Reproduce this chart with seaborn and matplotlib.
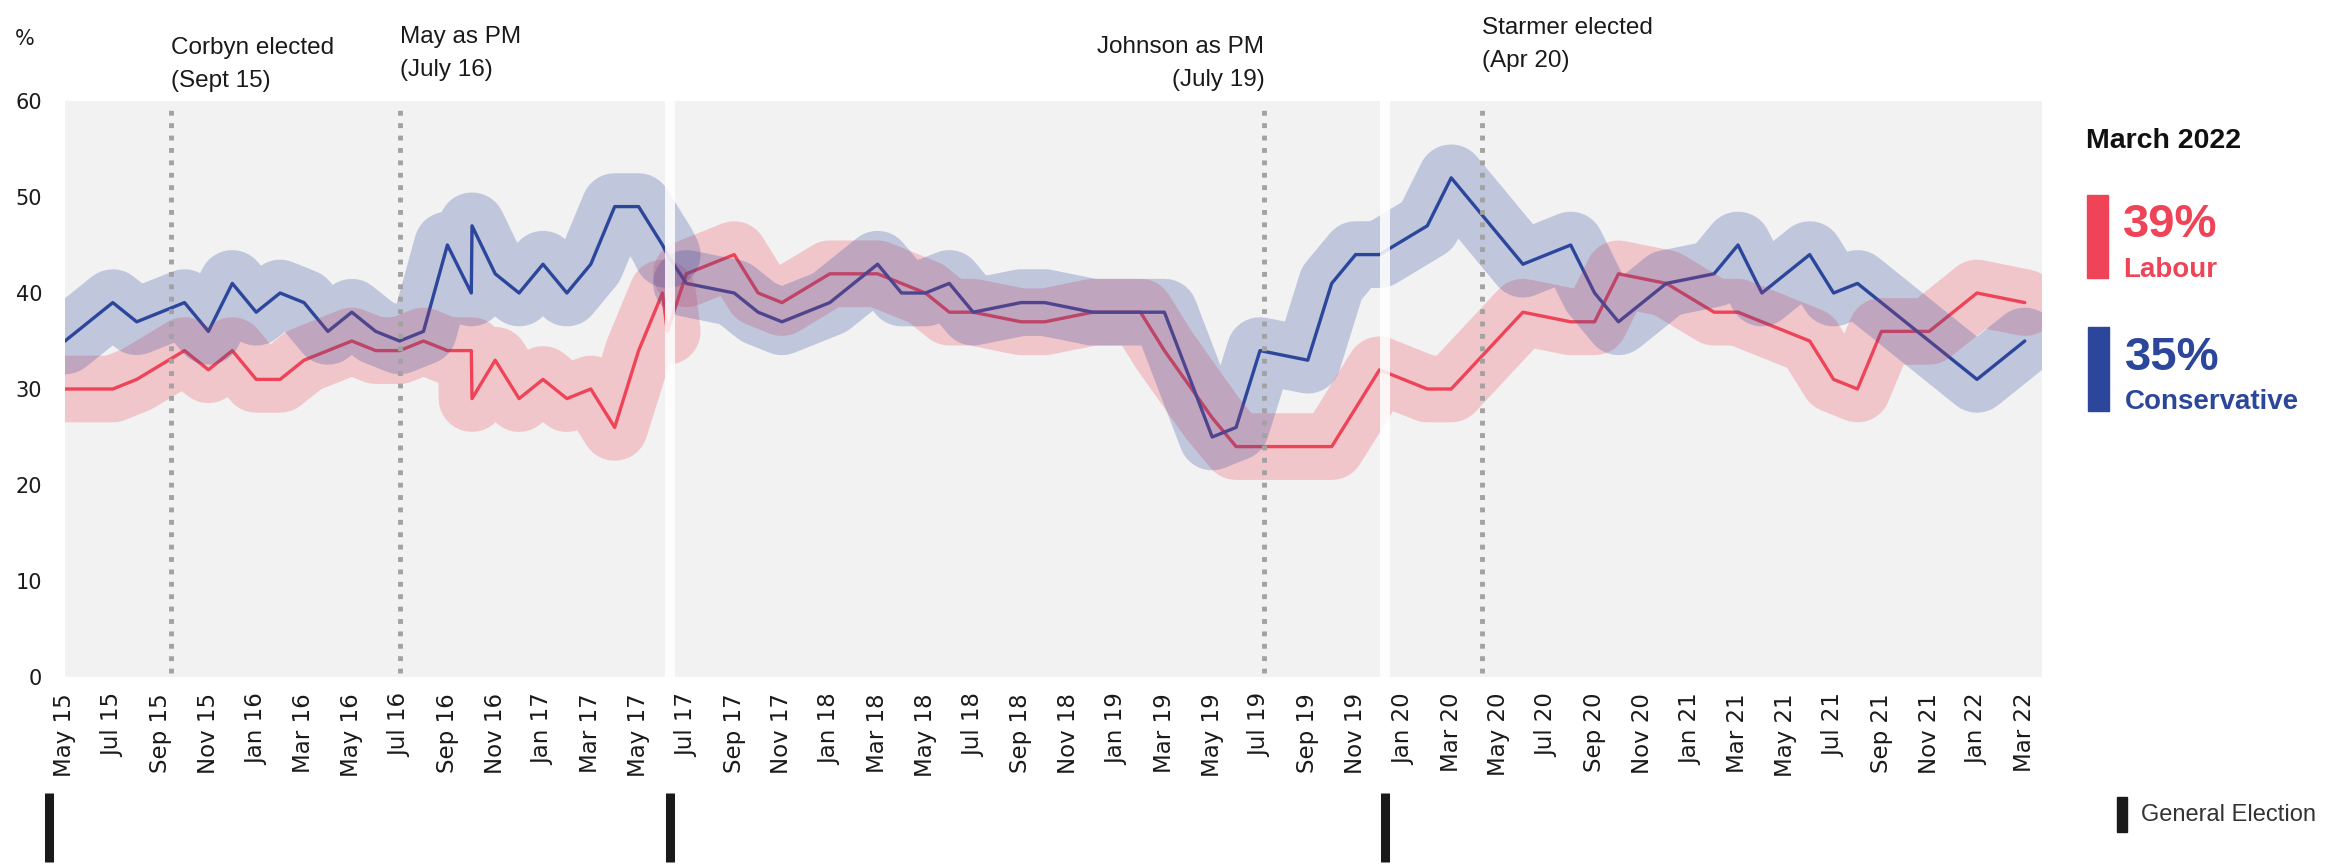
import pandas as pd
import seaborn as sns
import matplotlib.pyplot as plt
from matplotlib.patches import Rectangle
from matplotlib.transforms import blended_transform_factory

# months counted from May 2015 (two polls in Sep/Oct 16 share a month)
months = [0, 2, 3, 5, 6, 7, 8, 9, 10, 11, 12, 13, 14, 15, 16, 17, 17.03, 18, 19, 20,
          21, 22, 23, 24, 25, 25.2,
          26, 28, 29, 30, 32, 34, 35, 36, 37, 38, 40, 41, 43, 44, 45, 46, 48, 49, 50,
          52, 53, 54, 55,
          57, 58, 61, 63, 64, 65, 67, 69, 70, 71, 73, 74, 75, 76, 78, 80, 82]
con = [35, 39, 37, 39, 36, 41, 38, 40, 39, 36, 38, 36, 35, 36, 45, 40, 47, 42, 40, 43,
       40, 43, 49, 49, 45, 44,
       41, 40, 38, 37, 39, 43, 40, 40, 41, 38, 39, 39, 38, 38, 38, 38, 25, 26, 34,
       33, 41, 44, 44,
       47, 52, 43, 45, 40, 37, 41, 42, 45, 40, 44, 40, 41, 39, 35, 31, 35]
lab = [30, 30, 31, 34, 32, 34, 31, 31, 33, 34, 35, 34, 34, 35, 34, 34, 29, 33, 29, 31,
       29, 30, 26, 34, 40, 36,
       42, 44, 40, 39, 42, 42, 41, 40, 38, 38, 37, 37, 38, 38, 38, 34, 27, 24, 24,
       24, 24, 28, 32,
       30, 30, 38, 37, 37, 42, 41, 38, 38, 37, 35, 31, 30, 36, 36, 40, 39]

# the wide bands break at the 2017 election
band_spans = [(0, 25.2), (26, 82)]
ge_months = [-0.65, 25.3, 55.23]

event_labels = ["Corbyn elected\n(Sept 15)", "May as PM\n(July 16)",
                "Johnson as PM\n(July 19)", "Starmer elected\n(Apr 20)"]
event_months = [4.43, 14.02, 50.18, 59.3]

tick_labels = ["May 15", "Jul 15", "Sep 15", "Nov 15", "Jan 16", "Mar 16", "May 16",
               "Jul 16", "Sep 16", "Nov 16", "Jan 17", "Mar 17", "May 17", "Jul 17",
               "Sep 17", "Nov 17", "Jan 18", "Mar 18", "May 18", "Jul 18", "Sep 18",
               "Nov 18", "Jan 19", "Mar 19", "May 19", "Jul 19", "Sep 19", "Nov 19",
               "Jan 20", "Mar 20", "May 20", "Jul 20", "Sep 20", "Nov 20", "Jan 21",
               "Mar 21", "May 21", "Jul 21", "Sep 21", "Nov 21", "Jan 22", "Mar 22"]

RED = "#ef4458"
BLUE = "#2c469b"
W, H = 2336, 866

sns.set_style("white")
plt.rcParams["font.family"] = ["Liberation Sans", "DejaVu Sans"]

df = pd.DataFrame({"month": months, "Conservative": con, "Labour": lab})

fig = plt.figure(figsize=(W / 100, H / 100), dpi=100)
ax = fig.add_axes([65 / W, 1 - 677 / H, (2042 - 65) / W, 576 / H])
ax.set_facecolor("#f2f2f2")

# thin lines first, translucent bands on top
for party, col in [("Labour", RED), ("Conservative", BLUE)]:
    sns.lineplot(data=df, x="month", y=party, color=col, lw=2.4,
                 estimator=None, sort=False, ax=ax, zorder=2)

for party, col in [("Labour", RED), ("Conservative", BLUE)]:
    for lo, hi in band_spans:
        seg = df[(df["month"] >= lo) & (df["month"] <= hi)]
        sns.lineplot(data=seg, x="month", y=party, color=col, lw=48, alpha=0.25,
                     estimator=None, sort=False, ax=ax, zorder=3,
                     solid_capstyle="round", solid_joinstyle="round")

for g in ge_months:
    if g > 0:
        ax.axvline(g, color="white", lw=7.2, alpha=0.85, zorder=4)

for m in event_months:
    ax.axvline(m, ymin=0.007, ymax=0.991, color="#a2a2a2", lw=3.5,
               linestyle=(0, (1.0, 1.55)), zorder=5)

# y of the second line's baseline, in axes units
text_y = [1.0238, 1.0434, 1.0260, 1.0595]
text_ha = ["left", "left", "right", "left"]
xt = ax.get_xaxis_transform()
for lbl, m, ty, ha in zip(event_labels, event_months, text_y, text_ha):
    ax.text(m, ty, lbl, transform=xt, ha=ha, va="baseline", fontsize=17.5,
            color="#1a1a1a", linespacing=1.65, clip_on=False)

ax.set_xlim(0, 82.72)
ax.set_ylim(0, 60)
ax.set_yticks(range(0, 61, 10))
ax.set_yticklabels([str(v) for v in range(0, 61, 10)], fontfamily="DejaVu Sans")
ax.set_xticks(range(0, 83, 2))
ax.set_xticklabels(tick_labels, fontfamily="DejaVu Sans", rotation=90)
ax.tick_params(axis="x", length=0, pad=11.5, labelsize=16.5, colors="#1a1a1a")
ax.tick_params(axis="y", length=0, pad=16.5, labelsize=15, colors="#1a1a1a")
ax.set_xlabel("")
ax.set_ylabel("")
for s in ax.spines.values():
    s.set_visible(False)

fig.text(15 / W, 1 - 45 / H, "%", fontsize=15, family="DejaVu Sans",
         color="#1a1a1a", va="baseline")

# general election markers under the axis
bt = blended_transform_factory(ax.transData, fig.transFigure)
ax.vlines(ge_months, 1 - 862 / H, 1 - 793 / H, transform=bt, color="#1a1a1a",
          lw=6.5, clip_on=False)
fig.add_artist(Rectangle((2117 / W, 1 - 832 / H), 10 / W, 35 / H,
                         transform=fig.transFigure, color="#1a1a1a"))
fig.text(2141 / W, 1 - 815 / H, "General Election", fontsize=17, color="#333333",
         va="center")

# latest figures panel
fig.text(2086 / W, 1 - 148 / H, "March 2022", fontsize=20.5, fontweight="bold",
         color="#111111", va="baseline")
fig.add_artist(Rectangle((2087 / W, 1 - 278 / H), 21 / W, 83 / H,
                         transform=fig.transFigure, color=RED))
fig.text(2123 / W, 1 - 237 / H, f"{lab[-1]}%", fontsize=34, fontweight="bold",
         color=RED, va="baseline")
fig.text(2123 / W, 1 - 277 / H, "Labour", fontsize=20, fontweight="bold",
         color=RED, va="baseline")
fig.add_artist(Rectangle((2088 / W, 1 - 411 / H), 21 / W, 84 / H,
                         transform=fig.transFigure, color=BLUE))
fig.text(2125 / W, 1 - 370 / H, f"{con[-1]}%", fontsize=34, fontweight="bold",
         color=BLUE, va="baseline")
fig.text(2125 / W, 1 - 409 / H, "Conservative", fontsize=20, fontweight="bold",
         color=BLUE, va="baseline")

fig.savefig("out.png", dpi=100)
